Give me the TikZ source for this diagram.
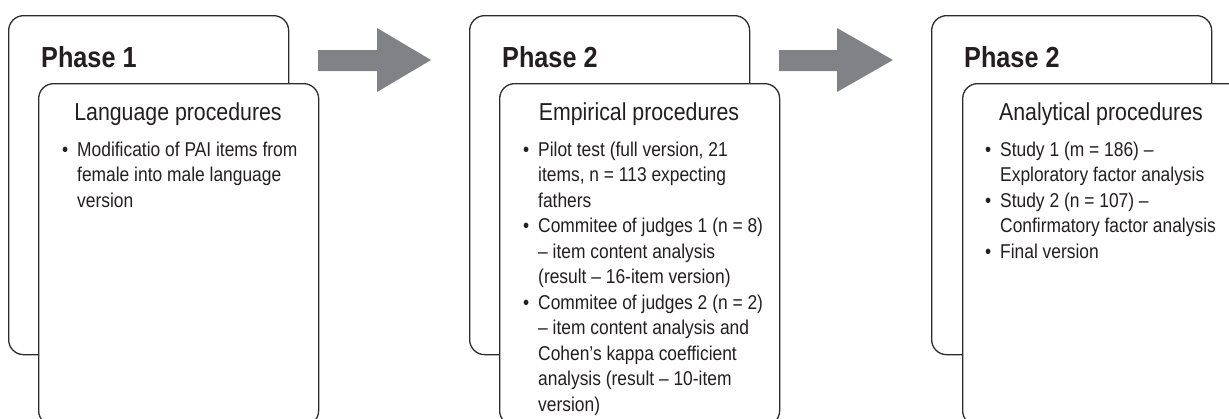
\documentclass[tikz,border=0pt]{standalone}
\usepackage{fontspec}
\setmainfont{Liberation Sans}[FakeStretch=0.87]
\usepackage{xcolor}
\usetikzlibrary{positioning}

\definecolor{arrowgray}{RGB}{128,130,133}
\definecolor{linegray}{RGB}{45,45,45}
\definecolor{textgray}{RGB}{35,31,32}

\tikzset{
  phasebox/.style={draw=linegray, line width=1.3pt, fill=white, rounded corners=15pt,
    anchor=north west, inner sep=0pt, minimum width=280pt, minimum height=339pt},
  procbox/.style={phasebox, minimum height=342pt},
  phasetitle/.style={anchor=base west, inner sep=0pt, text=textgray,
    font=\fontsize{29}{35}\selectfont\bfseries},
  proctitle/.style={anchor=base, inner sep=0pt, text=textgray,
    font=\fontsize{24.5}{29}\selectfont},
  proclist/.style={anchor=base west, inner sep=0pt, text=textgray,
    font=\fontsize{20}{25.5}\selectfont},
  blockarrow/.style={fill=arrowgray, draw=none}
}
\newcommand{\bul}{\makebox[15pt][l]{•}}

\begin{document}
\begin{tikzpicture}[x=1pt, y=-1pt]
\useasboundingbox (0,0) rectangle (1229,418);
\clip (0,0) rectangle (1229,418);
% phase 1
\node[phasebox] (out1) at (8,15) {};
\node[procbox]  (in1)  at (38,83) {};
\node[phasetitle] (ph1) at (41,67) {Phase 1};
\node[proctitle] (pr1) at (178,120) {Language procedures};
\node[proclist] (li1) at (62,156) {\begin{tabular}[t]{@{}l@{}l@{}}
\bul & Modificatio of PAI items from\\
     & female into male language\\
     & version
\end{tabular}};
% phase 2
\node[phasebox] (out2) at (469,15) {};
\node[procbox]  (in2)  at (499,83) {};
\node[phasetitle] (ph2) at (502,67) {Phase 2};
\node[proctitle] (pr2) at (639,120) {Empirical procedures};
\node[proclist] (li2) at (523,156) {\begin{tabular}[t]{@{}l@{}l@{}}
\bul & Pilot test (full version, 21\\
     & items, n = 113 expecting\\
     & fathers\\
\bul & Commitee of judges 1 (n = 8)\\
     & – item content analysis\\
     & (result – 16-item version)\\
\bul & Commitee of judges 2 (n = 2)\\
     & – item content analysis and\\
     & Cohen’s kappa coefficient\\
     & analysis (result – 10-item\\
     & version)
\end{tabular}};
% phase 3
\node[phasebox] (out3) at (931,15) {};
\node[procbox]  (in3)  at (962,83) {};
\node[phasetitle] (ph3) at (964,67) {Phase 2};
\node[proctitle] (pr3) at (1101,120) {Analytical procedures};
\node[proclist] (li3) at (985,156) {\begin{tabular}[t]{@{}l@{}l@{}}
\bul & Study 1 (m = 186) –\\
     & Exploratory factor analysis\\
\bul & Study 2 (n = 107) –\\
     & Confirmatory factor analysis\\
\bul & Final version
\end{tabular}};
% arrows between phases
\fill[blockarrow] (318,50) -- (377,50) -- (377,28) -- (431,60) -- (377,92) -- (377,71) -- (318,71) -- cycle;
\fill[blockarrow] (779,50) -- (837,50) -- (837,28) -- (893,60) -- (837,92) -- (837,71) -- (779,71) -- cycle;
\end{tikzpicture}
\end{document}
